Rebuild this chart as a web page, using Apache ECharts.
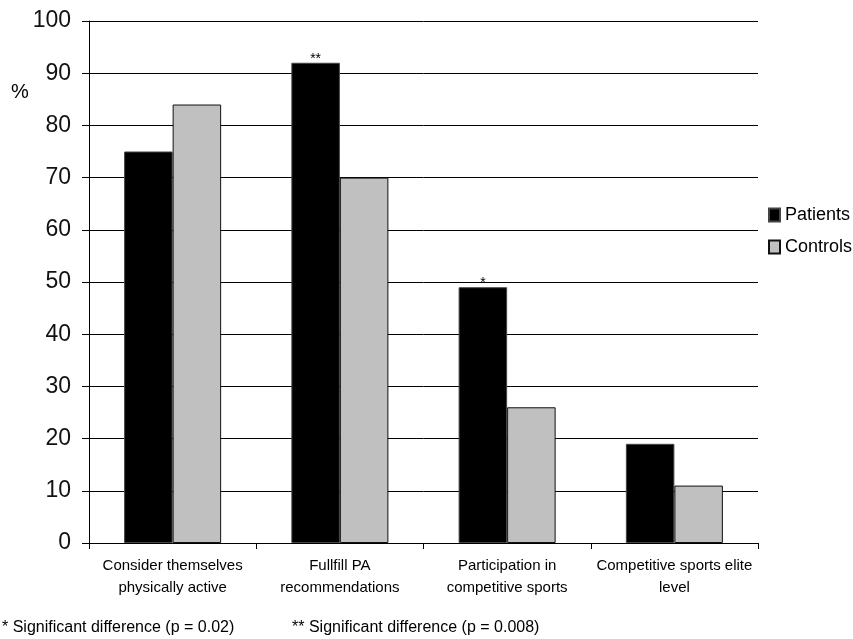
<!DOCTYPE html>
<html>
<head>
<meta charset="utf-8">
<script src="https://cdn.jsdelivr.net/npm/echarts@6/dist/echarts.min.js"></script>
<style>
html,body{margin:0;padding:0;background:#fff;}
#chart{width:853px;height:639px;}
</style>
</head>
<body>
<div id="chart"></div>
<script>
const categories = [
  'Consider themselves\nphysically active',
  'Fullfill PA\nrecommendations',
  'Participation in\ncompetitive sports',
  'Competitive sports elite\nlevel'
];
const patients = [75, 92, 49, 19];
const controls = [84, 70, 26, 11];
const patientMarks = ['', '**', '*', ''];
const yTicks = [0, 10, 20, 30, 40, 50, 60, 70, 80, 90, 100];
const footnotes = ['* Significant difference (p = 0.02)', '** Significant difference (p = 0.008)'];

const font = '"Liberation Sans", Arial, sans-serif';
const chart = echarts.init(document.getElementById('chart'), null, {renderer: 'canvas'});
chart.setOption({
  animation: false,
  backgroundColor: '#fff',
  textStyle: {fontFamily: font},
  grid: {left: 89, right: 95, top: 21, bottom: 96, containLabel: false},
  legend: {
    orient: 'vertical',
    left: 768,
    top: 206,
    padding: 0,
    icon: 'rect',
    itemWidth: 11,
    itemHeight: 13,
    itemGap: 14,
    textStyle: {fontSize: 18, color: '#000', fontFamily: font},
    data: ['Patients', 'Controls']
  },
  xAxis: {
    type: 'category',
    data: categories,
    axisLine: {show: false},
    axisTick: {show: true, length: 6, lineStyle: {color: '#000'}, alignWithLabel: false},
    axisLabel: {interval: 0, fontSize: 15, lineHeight: 22, color: '#000', margin: 12, fontFamily: font}
  },
  yAxis: {
    type: 'value',
    min: yTicks[0],
    max: yTicks[yTicks.length - 1],
    interval: 10,
    axisLine: {show: true, lineStyle: {color: '#000', width: 1}},
    axisTick: {show: true, length: 7, lineStyle: {color: '#000'}},
    axisLabel: {fontSize: 23, color: '#111', margin: 18, fontFamily: font},
    splitLine: {show: true, lineStyle: {color: '#000', width: 1}}
  },
  series: [
    {
      name: 'Patients',
      type: 'bar',
      data: patients,
      barGap: '0%',
      barCategoryGap: '42%',
      itemStyle: {color: '#000', borderColor: '#444', borderWidth: 1},
      label: {
        show: true,
        position: 'top',
        distance: -3,
        fontSize: 14,
        color: '#000',
        fontFamily: font,
        formatter: p => patientMarks[p.dataIndex]
      }
    },
    {
      name: 'Controls',
      type: 'bar',
      data: controls,
      itemStyle: {color: '#c0c0c0', borderColor: '#111', borderWidth: 1}
    }
  ],
  graphic: [
    {type: 'text', left: 11, top: 82, style: {text: '%', fontSize: 20, fill: '#000', fontFamily: font}},
    {type: 'text', left: 2, top: 620, style: {text: footnotes[0], fontSize: 16, fill: '#000', fontFamily: font}},
    {type: 'text', left: 292, top: 620, style: {text: footnotes[1], fontSize: 16, fill: '#000', fontFamily: font}}
  ]
});
</script>
</body>
</html>
